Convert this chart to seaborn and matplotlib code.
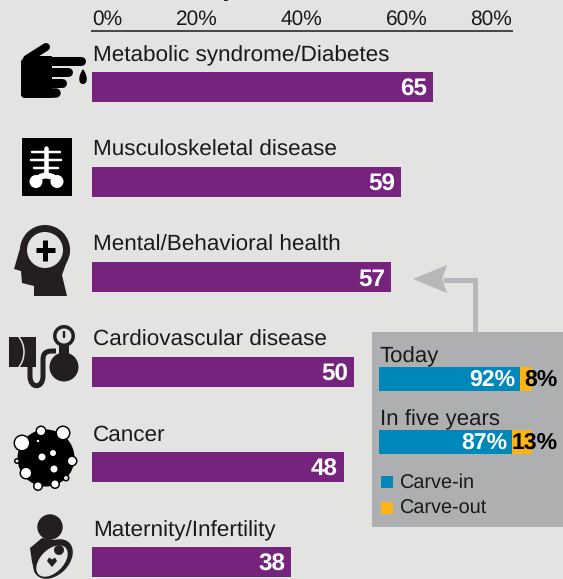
import matplotlib
matplotlib.use('Agg')
import matplotlib.pyplot as plt
import numpy as np
import pandas as pd
import seaborn as sns
from matplotlib.patches import Circle, Ellipse, PathPatch, Polygon, Rectangle
from matplotlib.path import Path

# chart data
conditions = ['Metabolic syndrome/Diabetes', 'Musculoskeletal disease', 'Mental/Behavioral health',
              'Cardiovascular disease', 'Cancer', 'Maternity/Infertility']
shares = [65, 59, 57, 50, 48, 38]
tick_values = [0, 20, 40, 60, 80]
periods = ['Today', 'In five years']
carve_in = [92, 87]
carve_out = [8, 13]
legend_labels = ['Carve-in', 'Carve-out']

BG = '#e3e3e2'
PURPLE = '#75237d'
PANEL = '#aeafb1'
ARROW = '#b5b7b9'
BLUE = '#0088bb'
ORANGE = '#fdb515'
INK = '#231f20'
TEXT = '#1a1a1a'
W, H = 563, 579

sns.set_theme(style='white')
plt.rcParams['font.family'] = ['Liberation Sans', 'DejaVu Sans']
plt.rcParams['text.hinting'] = 'no_hinting'

fig = plt.figure(figsize=(W / 100, H / 100), dpi=100, facecolor=BG)


def px_axes(x0, y0, x1, y1, **kwargs):
    """Axes placed by picture pixels, y measured from the top."""
    return fig.add_axes([x0 / W, 1 - y1 / H, (x1 - x0) / W, (y1 - y0) / H], **kwargs)


# overlay in picture pixels for the icons, the arrow and the panel
canvas = px_axes(0, 0, W, H, zorder=1)
canvas.set_xlim(0, W)
canvas.set_ylim(H, 0)
canvas.axis('off')


def blob(x, y, r, color=INK):
    canvas.add_patch(Circle((x, y), r, fc=color, ec='none'))


def stroke(xs, ys, width, color=INK, cap='round'):
    canvas.plot(xs, ys, color=color, lw=width * 0.72, solid_capstyle=cap, solid_joinstyle='round')


def curve(points, codes, width, color=INK):
    canvas.add_patch(PathPatch(Path(points, codes), fc='none', ec=color, lw=width * 0.72, capstyle='butt'))


def draw_hand():
    canvas.add_patch(Rectangle((21, 62), 31, 32, fc='black', ec='none'))
    canvas.add_patch(Polygon([(21, 62), (28, 56), (40, 56), (52, 56), (52, 64), (21, 64)], fc='black', ec='none'))
    stroke([27, 46], [59, 47], 8, 'black')
    for y, x, w in [(60.5, 81, 9), (72, 68, 9), (82.5, 62, 9), (93, 56, 9.5)]:
        stroke([48, x], [y, y], w, 'black')
    stroke([25, 25], [62, 94], 8, 'black')
    stroke([25, 50], [94, 94], 8, 'black')
    canvas.add_patch(PathPatch(Path([(83, 69), (78, 76), (78, 84), (83, 84), (88, 84), (88, 76), (83, 69)],
                                    [Path.MOVETO, Path.CURVE4, Path.CURVE4, Path.CURVE4,
                                     Path.CURVE4, Path.CURVE4, Path.CURVE4]), fc='black', ec='none'))


def draw_xray():
    canvas.add_patch(Rectangle((22, 138), 50, 58, fc='black', ec='none'))
    stroke([46, 46], [148, 176], 4.5, 'white')
    for y, half in [(152, 14), (160, 15), (168, 12)]:
        stroke([46 - half, 46 + half], [y, y], 2.5, 'white')
    blob(36, 181.5, 6.5, 'white')
    blob(57, 181.5, 6.5, 'white')
    stroke([40, 46, 53], [177, 175, 177], 6, 'white')


def draw_head():
    blob(45, 250, 25)
    canvas.add_patch(Polygon([(21, 245), (14, 269), (21, 271), (22, 283), (34, 286), (34, 296), (67, 296),
                              (62, 275), (70, 253)], fc=INK, ec='none'))
    blob(45, 250, 18, BG)
    stroke([45, 45], [240, 261], 5, 'black', 'butt')
    stroke([35.5, 55], [250, 250], 5, 'black', 'butt')


def draw_cuff():
    canvas.add_patch(Rectangle((9, 337), 27, 30, fc=INK, ec='none'))
    curve([(18, 336), (26, 344), (26, 360), (18, 368)],
          [Path.MOVETO, Path.CURVE4, Path.CURVE4, Path.CURVE4], 1.5, BG)
    curve([(30, 366), (30, 376), (30, 389), (43, 389), (43, 376), (43, 360), (43, 351), (48, 351), (56, 351)],
          [Path.MOVETO, Path.LINETO, Path.CURVE4, Path.CURVE4, Path.CURVE4, Path.LINETO,
           Path.CURVE4, Path.CURVE4, Path.CURVE4], 5)
    blob(64, 367, 14.5)
    canvas.add_patch(Rectangle((59, 342), 10, 16, fc=INK, ec='none'))
    blob(64, 336, 11)
    blob(64, 336, 7.5, BG)
    stroke([64, 64], [332, 337], 2.5)


def draw_cell():
    blob(46, 458, 28.5, 'black')
    for x, y, r in [(22, 443, 7), (41, 431, 4), (63, 433, 6), (72, 461, 4), (26, 473, 5), (38, 486, 3.5),
                    (55, 484, 3.5), (66, 478, 2), (17, 461, 1.5)]:
        blob(x, y, r + 1.5, 'black')
        blob(x, y, r, BG if r < 2.5 else 'white')
    for x, y, r in [(42, 457, 3.5), (53, 453, 3), (54, 469, 3.5), (38, 441, 1.2)]:
        blob(x, y, r, 'white')


def draw_mother():
    blob(50, 527, 12.7)
    canvas.add_patch(Polygon([(42, 538), (55, 540), (62, 545), (45, 575), (35, 573), (32, 562), (30, 548)],
                             fc=INK, ec='none'))
    canvas.add_patch(Ellipse((53, 559), 46, 32, angle=-45, fc=INK, ec='none'))
    canvas.add_patch(Ellipse((52, 561), 38, 23, angle=-45, fc=BG, ec='none'))
    blob(59, 550, 5)
    canvas.add_patch(Polygon([(52, 567), (47, 561), (49, 557.5), (52, 559.5), (55, 557.5), (57, 561)],
                             fc=INK, ec='none'))


for draw in [draw_hand, draw_xray, draw_head, draw_cuff, draw_cell, draw_mother]:
    draw()

# tail of the cropped headline that runs off the top edge
stroke([223.5, 227.5], [0.3, 0.3], 1.6, 'black', 'butt')

# main bars, about 5.24 px per point, one row every 95 px
main_df = pd.DataFrame({'condition': conditions, 'share': shares})
ax = px_axes(92, 31, 511.5, H, facecolor='none', zorder=2)
sns.barplot(data=main_df, x='share', y='condition', color=PURPLE, saturation=1, width=30 / 95,
            edgecolor='none', linewidth=0, ax=ax)
ax.set_xlim(0, 80)
ax.set_ylim((H - 87) / 95, (31 - 87) / 95)
ax.set_xlabel('')
ax.set_ylabel('')
ax.set_yticks([])
ax.xaxis.tick_top()
ax.set_xticks(tick_values)
ax.set_xticklabels([f'{v}%' for v in tick_values], fontsize=15, color=TEXT)
ax.tick_params(axis='x', length=0, pad=1.5)
labels = ax.get_xticklabels()
labels[0].set_ha('left')
labels[-1].set_ha('right')
sns.despine(ax=ax, left=True, right=True, bottom=True, top=False)
ax.spines['top'].set_color('#444444')
ax.spines['top'].set_linewidth(1.4)
for i, (name, value) in enumerate(zip(conditions, shares)):
    ax.annotate(name, (0, i), xytext=(1, 26), textcoords='offset pixels', va='baseline', ha='left',
                fontsize=16.2, color=TEXT, annotation_clip=False)
    ax.annotate(str(value), (value, i), xytext=(-6, -9), textcoords='offset pixels', va='baseline', ha='right',
                fontsize=17.5, fontweight='bold', color='white')

# callout panel and its arrow
canvas.add_patch(Polygon([(475, 332), (475, 279.5), (443, 279.5)], closed=False, fc='none', ec=ARROW,
                         lw=5 * 0.72, joinstyle='miter', capstyle='butt'))
canvas.add_patch(Polygon([(413, 279), (447, 265), (442, 279), (447, 293)], fc=ARROW, ec='none'))
canvas.add_patch(Rectangle((372, 332), W - 372, 195, fc=PANEL, ec='none'))

# stacked bars inside the panel, 63 px per row
inset = px_axes(379, 332, 532, 527, facecolor='none', zorder=3)
inset.barh(range(2), carve_in, height=24 / 63, color=BLUE, edgecolor='none', linewidth=0)
inset.barh(range(2), carve_out, left=carve_in, height=24 / 63, color=ORANGE, edgecolor='none', linewidth=0)
inset.set_xlim(0, 100)
inset.set_ylim((527 - 379) / 63, (332 - 379) / 63)
inset.axis('off')
for i, (name, a, b) in enumerate(zip(periods, carve_in, carve_out)):
    inset.annotate(name, (0, i), xytext=(1, 17), textcoords='offset pixels', va='baseline', ha='left',
                   fontsize=16, color=TEXT)
    inset.annotate(f'{a}%', (a, i), xytext=(-5, -7), textcoords='offset pixels', va='baseline', ha='right',
                   fontsize=16.6, fontweight='bold', color='white')
    inset.annotate(f'{b}%', (100, i), xytext=(26, -7), textcoords='offset pixels', va='baseline', ha='right',
                   fontsize=16.6, fontweight='bold', color='black', annotation_clip=False)

# hand-placed legend
for y, label, color in zip([476, 502], legend_labels, [BLUE, ORANGE]):
    canvas.add_patch(Rectangle((381, y), 12, 12, fc=color, ec='none'))
    canvas.text(399.5, y + 11.5, label, fontsize=14.3, color=TEXT, va='baseline', ha='left')

fig.savefig('out.png', dpi=100, facecolor=BG)
